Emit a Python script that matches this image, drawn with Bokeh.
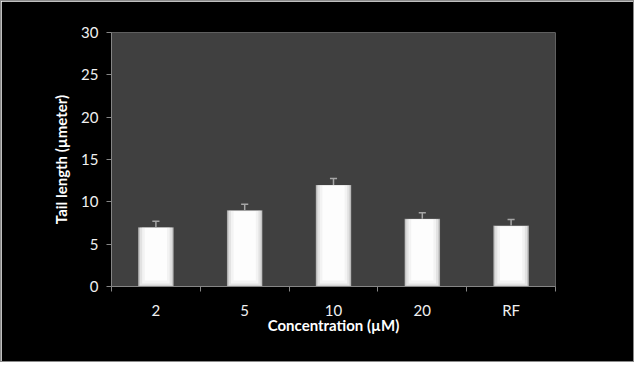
from bokeh.plotting import figure
from bokeh.models import Range1d, FixedTicker
from bokeh.embed import file_html
from bokeh.resources import INLINE

categories = ["2", "5", "10", "20", "RF"]
values = [7.0, 9.0, 12.0, 8.0, 7.2]
errors = [0.7, 0.7, 0.75, 0.7, 0.7]
y_ticks = [0, 5, 10, 15, 20, 25, 30]

n = len(categories)
xs = [i + 0.5 for i in range(n)]

p = figure(width=634, height=362, output_backend="svg", toolbar_location=None,
           x_range=Range1d(0, n), y_range=Range1d(0, 30),
           min_border_left=110, min_border_top=31, min_border_right=80, min_border_bottom=77)
p.styles = {"border": "1px solid #8a8a8a"}
p.background_fill_color = "#404040"
p.border_fill_color = "#000000"
p.outline_line_color = None
p.xgrid.visible = False
p.ygrid.visible = False

# bars with a simple layered "bevel" look
layers = [
    (0.40, 0.00, 0.00, "#8e8e8e"),
    (0.39, 0.00, 0.05, "#c4c4c4"),
    (0.36, 0.12, 0.05, "#e2e2e2"),
    (0.31, 0.35, 0.07, "#f3f3f3"),
    (0.25, 0.70, 0.10, "#fdfdfd"),
]
for w, b, t, c in layers:
    p.vbar(x=xs, width=w, bottom=b, top=[v - t for v in values], fill_color=c, line_color=None)

# error bars (upper)
tops = [v + e for v, e in zip(values, errors)]
p.segment(x0=xs, x1=xs, y0=values, y1=tops, line_color="#a6a6a6", line_width=1.5)
p.segment(x0=[x - 0.04 for x in xs], x1=[x + 0.04 for x in xs], y0=tops, y1=tops,
          line_color="#a6a6a6", line_width=1.5)

font = "Lato"
xa = p.xaxis[0]
xa.ticker = FixedTicker(ticks=xs, minor_ticks=list(range(n + 1)))
xa.major_label_overrides = {x: c for x, c in zip(xs, categories)}
xa.major_tick_out = 0
xa.major_tick_in = 0
xa.minor_tick_out = 5
xa.minor_tick_in = 0
xa.minor_tick_line_color = "#868686"
xa.axis_line_color = "#868686"
xa.axis_label = "Concentration (µM)"
xa.axis_label_text_font = font
xa.axis_label_text_font_style = "bold"
xa.axis_label_text_font_size = "15px"
xa.axis_label_text_color = "#ffffff"
xa.axis_label_standoff = -6
xa.major_label_text_font = font
xa.major_label_text_font_size = "15px"
xa.major_label_text_color = "#f0f0f0"
xa.major_label_standoff = 9

ya = p.yaxis[0]
ya.ticker = FixedTicker(ticks=y_ticks)
ya.minor_tick_line_color = None
ya.major_tick_out = 5
ya.major_tick_in = 0
ya.major_tick_line_color = "#868686"
ya.axis_line_color = "#868686"
ya.axis_label = "Tail length (µmeter)"
ya.axis_label_text_font = font
ya.axis_label_text_font_style = "bold"
ya.axis_label_text_font_size = "15px"
ya.axis_label_text_color = "#ffffff"
ya.axis_label_standoff = 8
ya.major_label_text_font = font
ya.major_label_text_font_size = "15px"
ya.major_label_text_color = "#f0f0f0"
ya.major_label_standoff = 8

open("out.html", "w").write(file_html(p, INLINE))
